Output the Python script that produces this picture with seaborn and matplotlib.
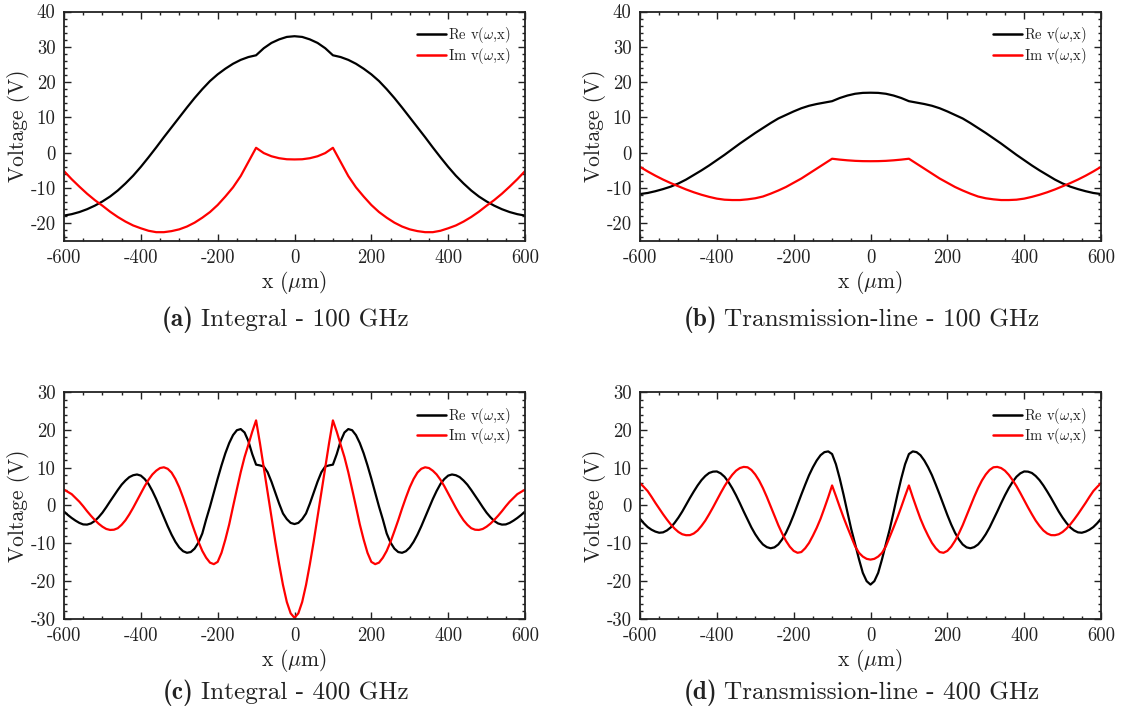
import numpy as np
import pandas as pd
import matplotlib
matplotlib.use("Agg")
import matplotlib.pyplot as plt
from matplotlib.ticker import MultipleLocator, FixedLocator
import seaborn as sns

# ---------------- data ----------------
# 100 GHz panels: x from -600 to 600 um in 20 um steps
x_100 = np.arange(-600, 601, 20)

re_int_100 = [-17.8, -17.4, -16.8, -16.0, -15.0, -13.8, -12.4, -10.7, -8.7, -6.5,
              -4.0, -1.3, 1.5, 4.4, 7.2, 10.0, 12.8, 15.5, 18.0, 20.3,
              22.2, 23.8, 25.2, 26.3, 27.1, 27.6, 29.6, 31.1, 32.1, 32.8,
              33.0,
              32.8, 32.1, 31.1, 29.6, 27.6, 27.1, 26.3, 25.2, 23.8, 22.2,
              20.3, 18.0, 15.5, 12.8, 10.0, 7.2, 4.4, 1.5, -1.3, -4.0,
              -6.5, -8.7, -10.7, -12.4, -13.8, -15.0, -16.0, -16.8, -17.4, -17.8]
im_int_100 = [-5.2, -7.5, -9.6, -11.6, -13.4, -15.0, -16.7, -18.2, -19.5, -20.6,
              -21.4, -22.1, -22.5, -22.5, -22.2, -21.7, -20.9, -19.8, -18.4, -16.8,
              -14.8, -12.4, -9.8, -6.6, -2.6, 1.4, -0.1, -1.0, -1.55, -1.85,
              -1.9,
              -1.85, -1.55, -1.0, -0.1, 1.4, -2.6, -6.6, -9.8, -12.4, -14.8,
              -16.8, -18.4, -19.8, -20.9, -21.7, -22.2, -22.5, -22.5, -22.1, -21.4,
              -20.6, -19.5, -18.2, -16.7, -15.0, -13.4, -11.6, -9.6, -7.5, -5.2]

re_tl_100 = [-11.7, -11.4, -10.9, -10.3, -9.6, -8.7, -7.6, -6.3, -5.0, -3.6,
             -2.1, -0.6, 1.0, 2.6, 4.1, 5.6, 7.0, 8.4, 9.7, 10.7,
             11.7, 12.6, 13.3, 13.8, 14.2, 14.6, 15.5, 16.2, 16.7, 16.95,
             17.0,
             16.95, 16.7, 16.2, 15.5, 14.6, 14.2, 13.8, 13.3, 12.6, 11.7,
             10.7, 9.7, 8.4, 7.0, 5.6, 4.1, 2.6, 1.0, -0.6, -2.1,
             -3.6, -5.0, -6.3, -7.6, -8.7, -9.6, -10.3, -10.9, -11.4, -11.7]
im_tl_100 = [-4.0, -5.3, -6.5, -7.6, -8.6, -9.5, -10.4, -11.2, -11.9, -12.5,
             -13.0, -13.3, -13.4, -13.4, -13.2, -12.9, -12.4, -11.6, -10.7, -9.7,
             -8.5, -7.3, -5.9, -4.5, -3.1, -1.7, -1.95, -2.15, -2.3, -2.38,
             -2.4,
             -2.38, -2.3, -2.15, -1.95, -1.7, -3.1, -4.5, -5.9, -7.3, -8.5,
             -9.7, -10.7, -11.6, -12.4, -12.9, -13.2, -13.4, -13.4, -13.3, -13.0,
             -12.5, -11.9, -11.2, -10.4, -9.5, -8.6, -7.6, -6.5, -5.3, -4.0]

# 400 GHz panels: x from -600 to 600 um in 10 um steps
x_400 = np.arange(-600, 601, 10)

re_int_400 = [
    -1.6, -2.5, -3.3, -4.0, -4.6, -5.0, -5.05, -4.75, -4.1, -3.1,
    -1.9, -0.45, 1.1, 2.6, 4.1, 5.5, 6.6, 7.5, 8.0, 8.2,
    7.9, 7.0, 5.7, 3.85, 1.7, -0.7, -3.1, -5.5, -7.7, -9.6,
    -11.1, -12.08, -12.5, -12.3, -11.4, -9.8, -7.4, -3.7, -0.3, 3.4,
    7.1, 10.6, 13.8, 16.5, 18.6, 19.9, 20.2, 19.3, 17.0, 13.6,
    10.8, 10.6, 10.3, 8.8, 6.3, 3.4, 0.5, -2.1, -3.6, -4.6,
    -4.9,
    -4.6, -3.6, -2.1, 0.5, 3.4, 6.3, 8.8, 10.3, 10.6, 10.8,
    13.6, 17.0, 19.3, 20.2, 19.9, 18.6, 16.5, 13.8, 10.6, 7.1,
    3.4, -0.3, -3.7, -7.4, -9.8, -11.4, -12.3, -12.5, -12.08, -11.1,
    -9.6, -7.7, -5.5, -3.1, -0.7, 1.7, 3.85, 5.7, 7.0, 7.9,
    8.2, 8.0, 7.5, 6.6, 5.5, 4.1, 2.6, 1.1, -0.45, -1.9,
    -3.1, -4.1, -4.75, -5.05, -5.0, -4.6, -4.0, -3.3, -2.5, -1.6]
im_int_400 = [
    4.2, 3.6, 3.0, 2.0, 1.0, -0.2, -1.5, -2.7, -3.8, -4.8,
    -5.6, -6.2, -6.46, -6.4, -6.0, -5.1, -3.9, -2.35, -0.6, 1.3,
    3.2, 5.1, 6.8, 8.2, 9.2, 9.9, 10.1, 9.7, 8.7, 7.0,
    4.8, 2.1, -0.8, -3.9, -6.8, -9.6, -12.0, -13.8, -15.1, -15.5,
    -14.9, -12.5, -9.0, -5.0, -0.3, 4.3, 8.8, 12.8, 16.1, 19.5,
    22.5, 16.5, 10.0, 3.5, -3.0, -9.5, -15.5, -21.0, -25.5, -28.5,
    -29.7,
    -28.5, -25.5, -21.0, -15.5, -9.5, -3.0, 3.5, 10.0, 16.5, 22.5,
    19.5, 16.1, 12.8, 8.8, 4.3, -0.3, -5.0, -9.0, -12.5, -14.9,
    -15.5, -15.1, -13.8, -12.0, -9.6, -6.8, -3.9, -0.8, 2.1, 4.8,
    7.0, 8.7, 9.7, 10.1, 9.9, 9.2, 8.2, 6.8, 5.1, 3.2,
    1.3, -0.6, -2.35, -3.9, -5.1, -6.0, -6.4, -6.46, -6.2, -5.6,
    -4.8, -3.8, -2.7, -1.5, -0.2, 1.0, 2.0, 3.0, 3.6, 4.2]

re_tl_400 = [
    -3.5, -4.7, -5.7, -6.4, -6.9, -7.2, -7.1, -6.6, -5.8, -4.6,
    -3.2, -1.6, 0.2, 2.0, 3.7, 5.3, 6.7, 7.8, 8.6, 8.95,
    9.0, 8.5, 7.6, 6.25, 4.6, 2.7, 0.6, -1.6, -3.7, -5.8,
    -7.6, -9.1, -10.3, -11.0, -11.3, -11.06, -10.3, -8.96, -7.2, -5.0,
    -2.5, 0.2, 2.9, 5.5, 8.0, 10.1, 11.9, 13.3, 14.1, 14.3,
    13.6, 10.9, 7.1, 2.8, -1.8, -6.3, -10.2, -14.2, -17.8, -20.0,
    -20.9,
    -20.0, -17.8, -14.2, -10.2, -6.3, -1.8, 2.8, 7.1, 10.9, 13.6,
    14.3, 14.1, 13.3, 11.9, 10.1, 8.0, 5.5, 2.9, 0.2, -2.5,
    -5.0, -7.2, -8.96, -10.3, -11.06, -11.3, -11.0, -10.3, -9.1, -7.6,
    -5.8, -3.7, -1.6, 0.6, 2.7, 4.6, 6.25, 7.6, 8.5, 9.0,
    8.95, 8.6, 7.8, 6.7, 5.3, 3.7, 2.0, 0.2, -1.6, -3.2,
    -4.6, -5.8, -6.6, -7.1, -7.2, -6.9, -6.4, -5.7, -4.7, -3.5]
im_tl_400 = [
    5.9, 4.9, 3.8, 2.3, 0.7, -0.8, -2.3, -3.7, -5.0, -6.1,
    -7.0, -7.6, -7.85, -7.83, -7.4, -6.6, -5.4, -4.0, -2.3, -0.5,
    1.4, 3.3, 5.1, 6.7, 8.1, 9.2, 9.9, 10.2, 10.1, 9.4,
    8.2, 6.6, 4.6, 2.3, -0.2, -2.7, -5.2, -7.4, -9.35, -10.9,
    -12.0, -12.5, -12.3, -11.3, -9.9, -8.0, -5.9, -3.5, -0.7, 2.2,
    5.3, 2.5, -0.4, -3.2, -5.8, -8.3, -10.8, -12.5, -13.5, -14.1,
    -14.3,
    -14.1, -13.5, -12.5, -10.8, -8.3, -5.8, -3.2, -0.4, 2.5, 5.3,
    2.2, -0.7, -3.5, -5.9, -8.0, -9.9, -11.3, -12.3, -12.5, -12.0,
    -10.9, -9.35, -7.4, -5.2, -2.7, -0.2, 2.3, 4.6, 6.6, 8.2,
    9.4, 10.1, 10.2, 9.9, 9.2, 8.1, 6.7, 5.1, 3.3, 1.4,
    -0.5, -2.3, -4.0, -5.4, -6.6, -7.4, -7.83, -7.85, -7.6, -7.0,
    -6.1, -5.0, -3.7, -2.3, -0.8, 0.7, 2.3, 3.8, 4.9, 5.9]

panels = [
    ("(a)", "Integral - 100 GHz", x_100, re_int_100, im_int_100, (-25, 40)),
    ("(b)", "Transmission-line - 100 GHz", x_100, re_tl_100, im_tl_100, (-25, 40)),
    ("(c)", "Integral - 400 GHz", x_400, re_int_400, im_int_400, (-30, 30)),
    ("(d)", "Transmission-line - 400 GHz", x_400, re_tl_400, im_tl_400, (-30, 30)),
]

x_ticks = [-600, -400, -200, 0, 200, 400, 600]

# ---------------- style ----------------
sns.set_theme(style="ticks")
plt.rcParams.update({
    "font.family": "serif",
    "font.serif": ["cmr10"],
    "mathtext.fontset": "cm",
    "axes.unicode_minus": False,
    "axes.formatter.use_mathtext": True,
    "axes.linewidth": 1.3,
    "axes.edgecolor": "#222222",
    "xtick.color": "#222222",
    "ytick.color": "#222222",
    "text.color": "#222222",
    "axes.labelcolor": "#222222",
})

W, H = 1127, 713
fig = plt.figure(figsize=(W / 100, H / 100), dpi=100)

# axes boxes in pixels: (left, top, right, bottom)
boxes = [(64, 11.5, 525, 241), (640, 11.5, 1101, 241),
         (64, 392, 525, 619), (640, 392, 1101, 619)]
caption_y = [320, 320, 693, 693]
captions = []

for (tag, title, xs, re_v, im_v, ylim), (l, t, r, b), cy in zip(panels, boxes, caption_y):
    ax = fig.add_axes([l / W, 1 - b / H, (r - l) / W, (b - t) / H])
    df = pd.DataFrame({"x": xs, "re": re_v, "im": im_v})
    sns.lineplot(data=df, x="x", y="re", ax=ax, color="black", lw=1.6,
                 label=r"Re v($\omega$,x)")
    sns.lineplot(data=df, x="x", y="im", ax=ax, color="#ff0000", lw=1.6,
                 label=r"Im v($\omega$,x)")
    ax.set_xlim(-600, 600)
    ax.set_ylim(*ylim)
    ax.xaxis.set_major_locator(FixedLocator(x_ticks))
    ax.xaxis.set_minor_locator(MultipleLocator(50))
    ax.yaxis.set_minor_locator(MultipleLocator(2))
    ax.set_xticklabels([str(v) for v in x_ticks])
    yt = [v for v in range(ylim[0] - ylim[0] % 10, ylim[1] + 1, 10) if v >= ylim[0]]
    ax.set_yticks(yt)
    ax.set_yticklabels([str(v) for v in yt])
    ax.tick_params(which="both", direction="in", top=True, right=True,
                   labelsize=13.5, width=1.0)
    ax.tick_params(which="major", length=5, pad=6)
    ax.tick_params(which="minor", length=2.5)
    ax.set_xlabel(r"x ($\mu$m)", fontsize=15.5, labelpad=1)
    ax.set_ylabel("Voltage (V)", fontsize=15.5, labelpad=0)
    leg = ax.legend(loc="upper right", frameon=False, fontsize=10.5,
                    handlelength=2.0, handletextpad=0.15, labelspacing=0.02,
                    borderaxespad=0.75, borderpad=0.2)
    for line in leg.get_lines():
        line.set_linewidth(1.8)
    captions.append(((l + r) / 2 - 9, cy, tag, title))

# captions: bold tag followed by the regular title, centred as one line
renderer = fig.canvas.get_renderer()
for cx, cy, tag, title in captions:
    yf = 1 - cy / H
    t1 = fig.text(0, yf, tag, fontfamily="cmb10", fontsize=18.2, va="center")
    t2 = fig.text(0, yf, title, fontsize=18.2, va="center")
    w1 = t1.get_window_extent(renderer).width
    w2 = t2.get_window_extent(renderer).width
    gap = 7
    x0 = cx - (w1 + gap + w2) / 2
    t1.set_x(x0 / W)
    t2.set_x((x0 + w1 + gap) / W)

fig.savefig("out.png", dpi=100)
